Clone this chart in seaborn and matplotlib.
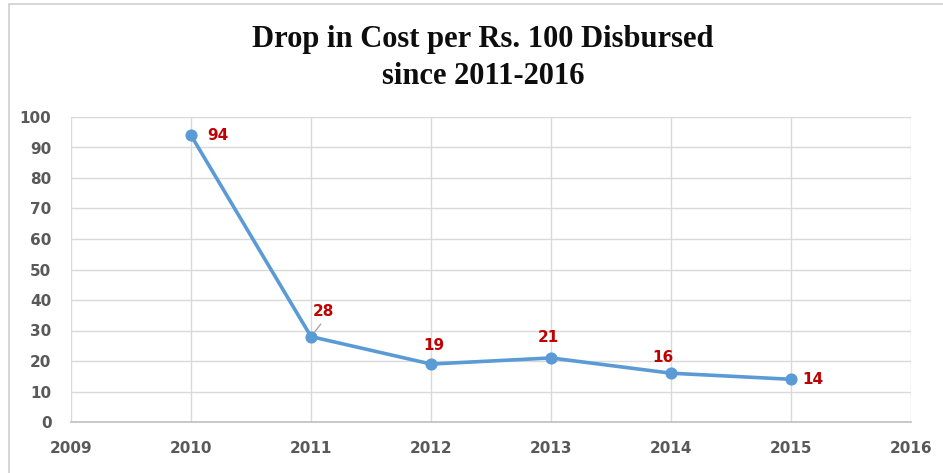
import matplotlib
matplotlib.use("Agg")
import matplotlib.pyplot as plt
import seaborn as sns
import pandas as pd
from matplotlib.patches import Rectangle

# Cost per Rs. 100 disbursed, by year
years = [2010, 2011, 2012, 2013, 2014, 2015]
cost = [94, 28, 19, 21, 16, 14]
x_ticks = [2009, 2010, 2011, 2012, 2013, 2014, 2015, 2016]
y_ticks = [0, 10, 20, 30, 40, 50, 60, 70, 80, 90, 100]
title = "Drop in Cost per Rs. 100 Disbursed\nsince 2011-2016"

# label placement per point: offset in points and alignment
label_pos = {
    2010: ((12, 0), "left", "center"),
    2011: ((1, 13), "left", "bottom"),
    2012: ((2, 8), "center", "bottom"),
    2013: ((-2, 9), "center", "bottom"),
    2014: ((-6, 6), "center", "bottom"),
    2015: ((8, 0), "left", "center"),
}

df = pd.DataFrame({"year": years, "cost": cost})

sns.set_theme(style="white")
fig = plt.figure(figsize=(9.43, 4.73), dpi=100)
fig.patch.set_facecolor("white")

# chart frame
fig.add_artist(Rectangle((9 / 943, -0.1), 1.2, 1 - 4 / 473 + 0.1,
                         transform=fig.transFigure, fill=False,
                         edgecolor="#D0D0D0", linewidth=1.2))

ax = fig.add_axes([71 / 943, 1 - 422 / 473, (911 - 71) / 943, (422 - 117) / 473])

sns.lineplot(data=df, x="year", y="cost", ax=ax, color="#5B9BD5",
             linewidth=2.6, marker="o", markersize=8,
             markeredgecolor="#5B9BD5", zorder=3)

ax.set_xlim(2009, 2016)
ax.set_ylim(0, 100)
ax.set_xticks(x_ticks)
ax.set_yticks(y_ticks)
ax.grid(True, color="#D9D9D9", linewidth=1)
ax.set_axisbelow(True)
for side in ["top", "right", "left"]:
    ax.spines[side].set_visible(False)
ax.spines["bottom"].set_color("#BFBFBF")
ax.spines["bottom"].set_linewidth(1.2)
ax.set_xlabel("")
ax.set_ylabel("")
ax.tick_params(axis="both", length=0, labelsize=11, labelcolor="#595959")
ax.tick_params(axis="x", pad=14)
ax.tick_params(axis="y", pad=14)
for lbl in ax.get_xticklabels() + ax.get_yticklabels():
    lbl.set_fontweight("bold")
    lbl.set_family("DejaVu Sans")

for yr, val in zip(years, cost):
    (dx, dy), ha, va = label_pos[yr]
    ax.annotate(str(val), (yr, val), xytext=(dx, dy), textcoords="offset points",
                ha=ha, va=va, color="#C00000", fontsize=11, fontweight="bold",
                family="DejaVu Sans")

# short leader line for the 2011 label
ax.annotate("", (2011, 28), xytext=(7, 9), textcoords="offset points",
            arrowprops=dict(arrowstyle="-", color="#A6A6A6", lw=1,
                            shrinkA=0, shrinkB=4))

fig.text(0.512, 1 - 58 / 473, title, ha="center", va="center",
         fontsize=22, fontweight="bold", family="Liberation Serif",
         color="#0D0D0D", linespacing=1.36)

fig.savefig("out.png", dpi=100)
